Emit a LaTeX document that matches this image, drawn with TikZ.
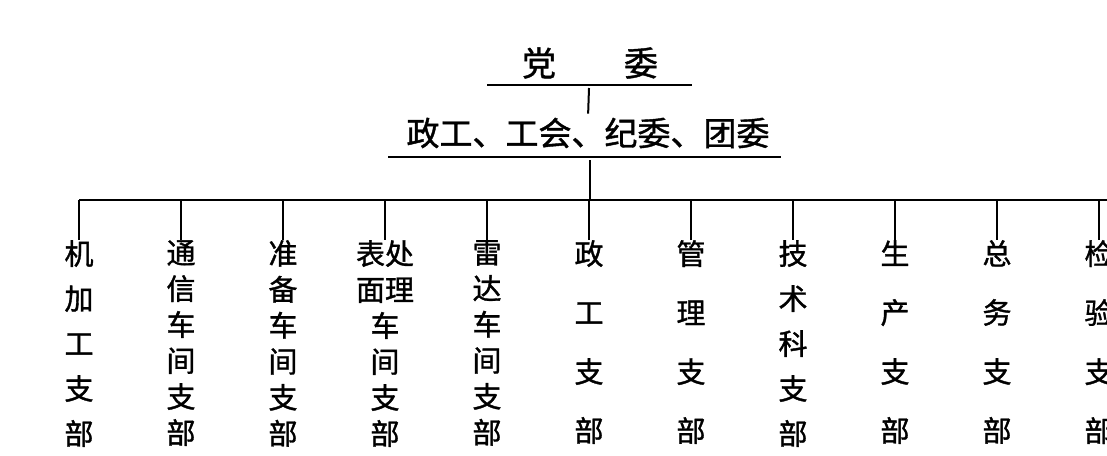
\documentclass[tikz,border=0pt]{standalone}
\usepackage{fontspec}
\newfontfamily\cjk[FakeBold=1.2]{Noto Sans CJK SC}
\usetikzlibrary{positioning}
\tikzset{
    % Texts
    title text/.style={font=\cjk\fontsize{34}{40}\selectfont,inner sep=0pt},
    organ text/.style={font=\cjk\fontsize{33}{38}\selectfont,inner sep=0pt},
    branch text/.style={font=\cjk\fontsize{29}{#1}\selectfont,align=center,inner sep=0pt,anchor=north},
    col four/.style={branch text=59pt},
    col five/.style={branch text=45pt},
    col six/.style={branch text=36pt},
    %
    % Lines
    rule/.style={line width=2pt},
    tree line/.style={line width=2pt},
}

\begin{document}
\begin{tikzpicture}[x=1pt,y=-1pt]
        \useasboundingbox (0,0) rectangle (1107,455);
        % top
        \node[title text] (dang) at (590,63) {党\hspace{2em}委};
        \draw[rule] (487,85) -- (692,85);
        \coordinate (dang rule) at (589,88);
        \node[organ text] (zhenggong) at (588,133) {政工、工会、纪委、团委};
        \draw[rule] (388,157) -- (781,157);
        \coordinate (zg rule) at (590,160);
        \draw[tree line,shorten >=4pt] (dang rule) -- (zhenggong.north);
        % bus
        \coordinate (bus) at (590,200);
        \coordinate (bus start) at (79,200);
        \coordinate (bus end) at (1110,200);
        \draw[tree line] (zg rule) -- (bus);
        \draw[tree line] (bus start) -- (bus end);
        % branches
        \foreach \i/\txt/\sty in {0/{机\\加\\工\\支\\部}/col five,
                1/{通\\信\\车\\间\\支\\部}/col six,
                2/{准\\备\\车\\间\\支\\部}/col six,
                3/{表处\\面理\\车\\间\\支\\部}/col six,
                4/{雷\\达\\车\\间\\支\\部}/col six,
                5/{政\\工\\支\\部}/col four,
                6/{管\\理\\支\\部}/col four,
                7/{技\\术\\科\\支\\部}/col five,
                8/{生\\产\\支\\部}/col four,
                9/{总\\务\\支\\部}/col four,
                10/{检\\验\\支\\部}/col four} {
            \coordinate (top\i) at (79+102*\i,200);
            \node[\sty] (col\i) at (79+102*\i,240) {\txt};
            \draw[tree line] (top\i) -- (col\i.north);
        }
    \end{tikzpicture}
\end{document}
